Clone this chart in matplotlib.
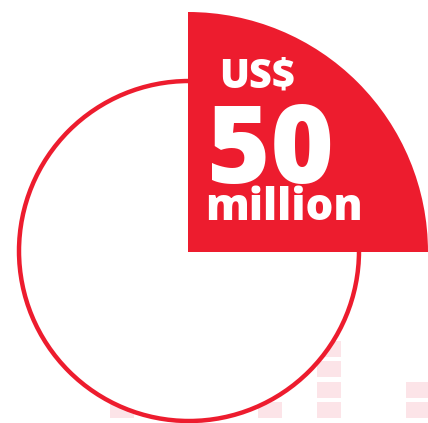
import matplotlib
matplotlib.use('Agg')
import matplotlib.pyplot as plt
from matplotlib.patches import Wedge, Circle, Rectangle

# headline figure
share = 0.25            # quarter of the circle highlighted
currency = 'US$'
amount = '50'
unit = 'million'

# faint background blocks: column left edge (px) and number of stacked blocks
block_cols = [110, 258, 317, 406]
block_counts = [1, 1, 4, 2]

RED = '#ED1C2E'
PINK = '#FCE4E8'

W, H = 428, 423
fig = plt.figure(figsize=(W / 100, H / 100), dpi=100)
ax = fig.add_axes([0, 0, 1, 1])
ax.set_xlim(0, W)
ax.set_ylim(0, H)
ax.axis('off')

# background blocks
bw, bh, gap = 24, 16, 4.5
for x0, n in zip(block_cols, block_counts):
    for i in range(n):
        y_top = 402 - i * (bh + gap)
        ax.add_patch(Rectangle((x0, H - y_top - bh), bw, bh, color=PINK, lw=0, zorder=1))

# outline circle
cx, cy, r = 189, H - 251, 170
ax.add_patch(Circle((cx, cy), r, facecolor='white', edgecolor=RED, lw=3.2, zorder=2))

# highlighted wedge
wx, wy, wr = 188, H - 252, 240
ax.add_patch(Wedge((wx, wy), wr, 0, 360 * share, color=RED, lw=0, zorder=3))

font = 'Open Sans'
ax.text(219, H - 87, currency, color='white', fontsize=28.5, fontweight=800,
        family=font, ha='left', va='baseline', zorder=4)
ax.text(207, H - 183, amount, color='white', fontsize=78, fontweight=800,
        family=font, ha='left', va='baseline', zorder=4)
ax.text(205, H - 220, unit, color='white', fontsize=31.5, fontweight=800,
        family=font, ha='left', va='baseline', zorder=4)

fig.savefig('out.png', dpi=100)
